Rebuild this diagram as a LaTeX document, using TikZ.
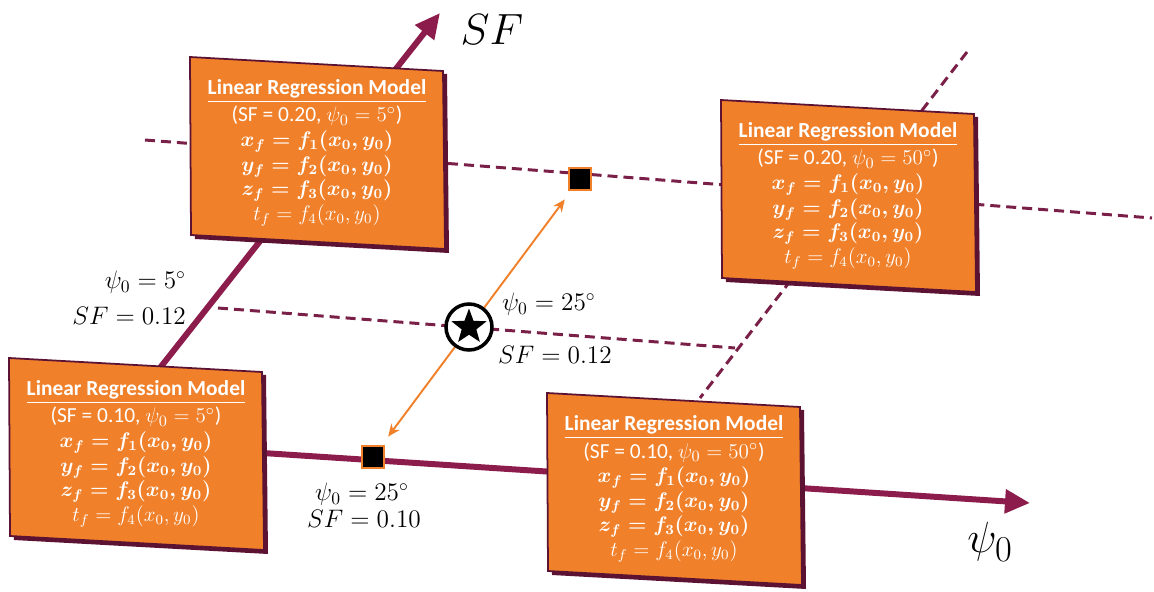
\documentclass[tikz,border=0pt]{standalone}
\usepackage{fontspec}
\setmainfont{Carlito}
\usetikzlibrary{arrows.meta,calc,shapes.geometric}

\definecolor{lrorange}{HTML}{F0802A}
\definecolor{axismaroon}{HTML}{8C1C4B}
\definecolor{dashmaroon}{HTML}{7A1F47}
\definecolor{framemaroon}{HTML}{5C1233}

\pgfdeclarelayer{lines}
\pgfdeclarelayer{panels}
\pgfsetlayers{lines,panels,main}

\newcommand{\lrtext}[2]{%
\textbf{\underline{Linear Regression Model}}\\[1.5pt]
(SF = #1, $\psi_0 = #2^\circ$)\\
{\fontsize{11.5}{14}\selectfont\boldmath$x_f = f_1(x_0, y_0)$}\\
{\fontsize{11.5}{14}\selectfont\boldmath$y_f = f_2(x_0, y_0)$}\\
{\fontsize{11.5}{14}\selectfont\boldmath$z_f = f_3(x_0, y_0)$}\\
{\fontsize{11.5}{14}\selectfont$t_f = f_4(x_0, y_0)$}}

\newcommand{\lrframe}[1]{%
  \fill[framemaroon] ($(#1)+(-123,-93)$) -- ($(#1)+(130,-79)$) -- ($(#1)+(132,100)$) -- ($(#1)+(-122,86)$) -- cycle;
  \filldraw[fill=lrorange,draw=framemaroon,line width=1pt] ($(#1)+(-127,-96)$) -- ($(#1)+(126,-82)$) -- ($(#1)+(128,96)$) -- ($(#1)+(-126,82)$) -- cycle;
}

\begin{document}
\begin{tikzpicture}[x=0.02cm,y=-0.02cm,
    lrbox/.style={text=white,align=center,inner sep=0pt,font=\fontsize{12.2}{14}\selectfont},
    axisline/.style={draw=axismaroon,line width=3.4pt,-{Triangle[length=0.5cm,width=0.46cm]}},
    gridline/.style={draw=dashmaroon,line width=1.7pt,dash pattern=on 0.2cm off 0.12cm},
    marker/.style={draw=lrorange,fill=black,line width=1.6pt,minimum size=0.44cm,inner sep=0pt},
    flowarrow/.style={draw=lrorange,line width=1.1pt,{Stealth[length=7pt,width=6pt]}-{Stealth[length=7pt,width=6pt]},shorten <=0.2cm,shorten >=0.2cm},
    lab/.style={font=\fontsize{14}{17}\selectfont,inner sep=1pt},
    biglab/.style={font=\fontsize{31}{34}\selectfont,inner sep=0pt}]
      \useasboundingbox (0,0) rectangle (1154,592);
%
      \node[lrbox] (lowfive)   at (136,454) {\lrtext{0.10}{5}};
      \node[lrbox] (highfive)  at (317,153) {\lrtext{0.20}{5}};
      \node[lrbox] (highfifty) at (848,196) {\lrtext{0.20}{50}};
      \node[lrbox] (lowfifty)  at (674,489) {\lrtext{0.10}{50}};
%
      \begin{pgfonlayer}{panels}
        \lrframe{lowfive}
        \lrframe{highfive}
        \lrframe{highfifty}
        \lrframe{lowfifty}
      \end{pgfonlayer}
%
      \coordinate (psiorigin) at (140,445);
      \coordinate (psitip)    at (1030,503);
      \coordinate (sforigin)  at (111,430);
      \coordinate (sftip)     at (440,13);
      \coordinate (topleft)   at (145,140);
      \coordinate (topright)  at (1152,218);
      \coordinate (midleft)   at (218,308);
      \coordinate (midright)  at (735,348);
      \coordinate (rtop)      at (967,52);
      \coordinate (rbottom)   at (700,398);
%
      \begin{pgfonlayer}{lines}
        \draw[gridline] (topleft) -- (topright);
        \draw[gridline] (midleft) -- (midright);
        \draw[gridline] (rtop) -- (rbottom);
        \draw[axisline] (psiorigin) -- (psitip);
        \draw[axisline] (sforigin) -- (sftip);
      \end{pgfonlayer}
%
      \node[marker] (sqlow)  at (373,457) {};
      \node[marker] (sqhigh) at (580,179) {};
      \draw[flowarrow] (sqlow) -- (sqhigh);
      \node[circle,draw=black,fill=white,line width=2pt,minimum size=0.92cm,inner sep=0pt] (query) at (469,327) {};
      \node[star,star points=5,star point ratio=2.4,fill=black,minimum size=0.74cm,inner sep=0pt] (querystar) at (query) {};
%
      \node[lab,anchor=west] (querypsi) at (500,304) {$\psi_0 = 25^\circ$};
      \node[lab,anchor=west] (querysf)  at (496,355) {$SF = 0.12$};
      \node[lab,anchor=east] (leftpsi)  at (188,282) {$\psi_0 = 5^\circ$};
      \node[lab,anchor=east] (leftsf)   at (188,316) {$SF = 0.12$};
      \node[lab] (lowpsi) at (362,494) {$\psi_0 = 25^\circ$};
      \node[lab] (lowsf)  at (364,519) {$SF = 0.10$};
%
      \node[biglab] (sflabel)  at (492,30)  {$SF$};
      \node[biglab] (psilabel) at (990,542) {$\psi_0$};
    \end{tikzpicture}
\end{document}
